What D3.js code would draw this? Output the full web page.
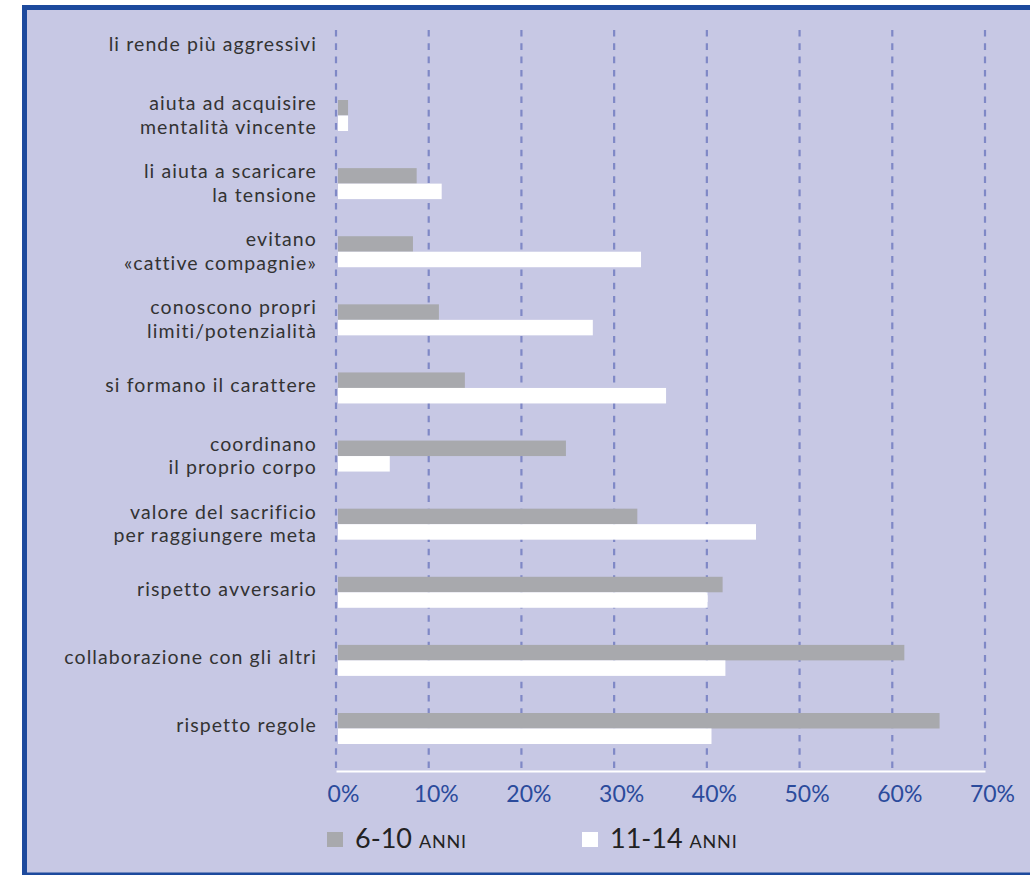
<!DOCTYPE html>
<html lang="it">
<head>
<meta charset="utf-8">
<title>Benefici dello sport per fascia d'età</title>
<script src="https://cdn.jsdelivr.net/npm/d3@7/dist/d3.min.js"></script>
<style>
  html, body { margin: 0; padding: 0; background: #ffffff; }
  svg { display: block; }
</style>
</head>
<body>
<svg id="chart" width="1030" height="875"></svg>
<script>
// Categories, top to bottom ("\n" splits a label over two lines)
const categories = [
  "li rende più aggressivi",
  "aiuta ad acquisire\nmentalità vincente",
  "li aiuta a scaricare\nla tensione",
  "evitano\n«cattive compagnie»",
  "conoscono propri\nlimiti/potenzialità",
  "si formano il carattere",
  "coordinano\nil proprio corpo",
  "valore del sacrificio\nper raggiungere meta",
  "rispetto avversario",
  "collaborazione con gli altri",
  "rispetto regole"
];
// Percentages for each age group
const valuesYoung = [0, 1.3, 8.7, 8.3, 11.1, 13.9, 24.8, 32.5, 41.7, 61.3, 65.1];
const valuesOlder = [0, 1.3, 11.4, 32.9, 27.7, 35.6, 5.8, 45.3, 40.1, 42.0, 40.5];
const seriesNames = ["6-10", "11-14"];
const tickValues = [0, 10, 20, 30, 40, 50, 60, 70];

const colors = {
  frame: "#1d4a9d",
  panel: "#c7c8e4",
  young: "#a8a9ad",
  older: "#ffffff",
  grid: "#7f88c6",
  tick: "#2b4b9c",
  text: "#333333"
};

const svg = d3.select("#chart");
const W = 1030, H = 875;

// Panel with blue frame on top, left and bottom
svg.append("rect").attr("x", 22).attr("y", 5).attr("width", W - 22).attr("height", H - 5)
  .attr("fill", colors.frame);
svg.append("rect").attr("x", 27).attr("y", 10).attr("width", W - 27).attr("height", 862.5)
  .attr("fill", colors.panel);

const x = d3.scaleLinear().domain([0, 70]).range([336, 985]);
const y = d3.scaleBand().domain(categories).range([13.35, 762.55]).padding(0);
const sub = d3.scaleBand().domain(seriesNames).range([0, 31]).padding(0);

const rows = categories.map((c, i) => ({ cat: c, vals: [valuesYoung[i], valuesOlder[i]] }));

// Dashed vertical gridlines
const gridBottom = 770, gridTop = 30;
svg.append("g").selectAll("line").data(tickValues).join("line")
  .attr("x1", d => x(d)).attr("x2", d => x(d))
  .attr("y1", gridTop).attr("y2", gridBottom)
  .attr("stroke", colors.grid).attr("stroke-width", 2.2)
  .attr("stroke-dasharray", "6.6 6.7");

// Bars: each category gets a grey bar over a white bar
const barStart = x(0) + 2;
const rowG = svg.append("g").selectAll("g").data(rows).join("g")
  .attr("transform", d => `translate(0,${y(d.cat) + y.bandwidth() / 2 - 15.5})`);
rowG.selectAll("rect").data(d => d.vals.map((v, j) => ({ v, s: seriesNames[j] }))).join("rect")
  .attr("x", barStart)
  .attr("y", d => sub(d.s))
  .attr("width", d => Math.max(0, x(d.v) - barStart))
  .attr("height", sub.bandwidth())
  .attr("fill", d => d.s === seriesNames[0] ? colors.young : colors.older);

// Category labels, right aligned
const labelFont = "Lato, 'Open Sans', sans-serif";
const labels = svg.append("g")
  .attr("font-family", labelFont).attr("font-size", 19.5).attr("fill", colors.text)
  .attr("letter-spacing", 1.1)
  .attr("text-anchor", "end");
categories.forEach(c => {
  const lines = c.split("\n");
  const cy = y(c) + y.bandwidth() / 2;
  const t = labels.append("text").attr("x", 317);
  if (lines.length === 1) {
    t.append("tspan").attr("x", 317).attr("y", cy + 4).text(lines[0]);
  } else {
    t.append("tspan").attr("x", 317).attr("y", cy - 5.5).text(lines[0]);
    t.append("tspan").attr("x", 317).attr("y", cy + 18).text(lines[1]);
  }
});

// X axis: white baseline with percentage labels
const axis = d3.axisBottom(x).tickValues(tickValues).tickSize(0).tickPadding(0)
  .tickFormat(d => d + "%");
const axisG = svg.append("g").attr("transform", "translate(0,771)").call(axis);
axisG.select(".domain").attr("stroke", "#ffffff").attr("stroke-width", 2.2);
axisG.selectAll(".tick text")
  .attr("font-family", labelFont).attr("font-size", 23).attr("fill", colors.tick)
  .attr("dy", 0).attr("y", 31).attr("dx", 7);

// Legend
const legend = svg.append("g");
const legendItems = [
  { name: seriesNames[0], color: colors.young, x: 327 },
  { name: seriesNames[1], color: colors.older, x: 582 }
];
legendItems.forEach(it => {
  legend.append("rect").attr("x", it.x).attr("y", 832).attr("width", 16).attr("height", 15)
    .attr("fill", it.color);
  const t = legend.append("text").attr("x", it.x + 28).attr("y", 848)
    .attr("font-family", labelFont).attr("fill", "#222222");
  t.append("tspan").attr("font-size", 27).text(it.name + " ");
  t.append("tspan").attr("font-size", 18).attr("letter-spacing", 0.8).text("ANNI");
});
</script>
</body>
</html>
